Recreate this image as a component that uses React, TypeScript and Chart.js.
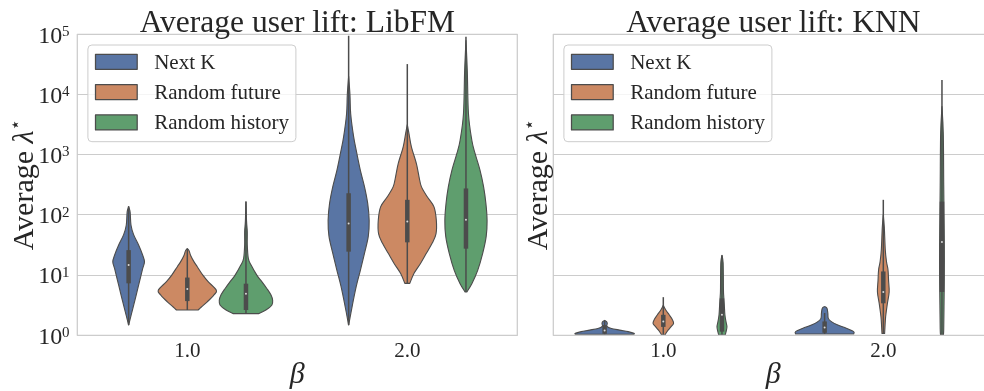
import React, { useEffect, useRef } from 'react';
import { Chart, registerables } from 'chart.js';

Chart.register(...registerables);

// ---------- data ----------
const CATEGORIES = ['1.0', '2.0'];
const SERIES = ['Next K', 'Random future', 'Random history'];
const COLORS = ['#5975a4', '#cc8963', '#5f9e6e'];
const Y_TICKS = [1, 10, 100, 1000, 10000, 100000];
const Y_EXPONENTS = ['0', '1', '2', '3', '4', '5'];
const TITLES = ['Average user lift: LibFM', 'Average user lift: KNN'];
const X_TITLE = 'β';

// violin outlines: [lambda value, full width as a fraction of the dodge slot]
const LIBFM_NEXTK_B1 = [[138, 0], [112, 0.05], [68, 0.08], [47, 0.17], [31.6, 0.34], [21.4, 0.48], [16.6, 0.54], [12.9, 0.48], [7.8, 0.37], [4.7, 0.26], [2.75, 0.14], [1.48, 0]];
const LIBFM_FUTURE_B1 = [[27.5, 0], [25.5, 0.06], [21.4, 0.11], [16.6, 0.23], [13.8, 0.34], [10, 0.53], [7.8, 0.71], [5.6, 0.99], [4.7, 0.91], [3.6, 0.68], [2.95, 0.48], [2.63, 0.37]];
const LIBFM_HISTORY_B1 = [[166, 0], [79, 0.02], [52, 0.045], [31.6, 0.045], [19, 0.08], [14.8, 0.17], [10, 0.37], [7.8, 0.54], [6.0, 0.71], [4.7, 0.85], [3.8, 0.91], [3.16, 0.88], [2.63, 0.68], [2.29, 0.43]];
const LIBFM_NEXTK_B2 = [[20000, 0], [10000, 0.045], [4800, 0.07], [2000, 0.17], [1050, 0.28], [550, 0.4], [295, 0.54], [155, 0.65], [81, 0.7], [44, 0.67], [23, 0.54], [12, 0.4], [6.5, 0.26], [3.4, 0.14], [1.48, 0]];
const LIBFM_FUTURE_B2 = [[3160, 0], [2240, 0.057], [1350, 0.14], [710, 0.31], [430, 0.4], [295, 0.48], [200, 0.68], [136, 0.91], [81, 0.99], [49, 0.98], [34, 0.85], [23, 0.65], [15.6, 0.45], [10.7, 0.23], [7.3, 0.085]];
const LIBFM_HISTORY_B2 = [[79000, 0], [25000, 0.045], [4800, 0.085], [1740, 0.2], [1050, 0.31], [550, 0.48], [295, 0.6], [155, 0.68], [81, 0.72], [44, 0.69], [23, 0.57], [12, 0.4], [7.2, 0.2], [5.25, 0.03]];

const KNN_NEXTK_B1 = [[1.76, 0], [1.7, 0.06], [1.58, 0.09], [1.41, 0.08], [1.3, 0.23], [1.22, 0.51], [1.15, 0.8], [1.08, 1.0], [1.04, 1.0]];
const KNN_FUTURE_B1 = [[3.16, 0], [2.63, 0.085], [2.19, 0.2], [1.82, 0.31], [1.58, 0.35], [1.38, 0.26], [1.23, 0.17], [1.07, 0.085], [1.01, 0.06]];
const KNN_HISTORY_B1 = [[21.4, 0], [15.8, 0.04], [6.0, 0.05], [4.7, 0.057], [3.16, 0.08], [2.19, 0.1], [1.7, 0.136], [1.38, 0.17], [1.15, 0.14], [1.01, 0.11]];
const KNN_NEXTK_B2 = [[3.0, 0], [2.81, 0.08], [2.32, 0.11], [1.91, 0.125], [1.69, 0.23], [1.48, 0.45], [1.31, 0.74], [1.15, 0.99], [1.05, 0.99]];
const KNN_FUTURE_B2 = [[100, 0], [63, 0.034], [26, 0.068], [16.6, 0.11], [12.3, 0.16], [8.1, 0.18], [5.25, 0.2], [3.4, 0.14], [2.04, 0.08], [1.38, 0.057], [1.07, 0.045]];
const KNN_HISTORY_B2 = [[6300, 0], [2240, 0.045], [316, 0.06], [100, 0.07], [31.6, 0.08], [10, 0.08], [3.16, 0.07], [1.26, 0.06], [1.02, 0.05]];

// inner boxes: [whisker low, q1, median, q3, whisker high]
const LIBFM_BOX_B1 = [[1.48, 7.3, 14.7, 26, 138], [2.63, 3.7, 5.9, 9.1, 27.5], [2.29, 2.63, 4.9, 7.2, 166]];
const LIBFM_BOX_B2 = [[1.48, 24.5, 72, 229, 95000], [7.2, 35, 78, 178, 32000], [5.25, 27.5, 83, 275, 91000]];
const KNN_BOX_B1 = [[1.04, 1.06, 1.2, 1.48, 1.8], [1.01, 1.38, 1.7, 2.19, 4.3], [1.01, 1.15, 2.19, 4.1, 21.4]];
const KNN_BOX_B2 = [[1.05, 1.1, 1.35, 1.7, 2.35], [1.07, 3.4, 5.25, 11.5, 178], [1.02, 5.25, 35.5, 166, 17400]];

// ---------- styling ----------
const GRAY = '#4c4c4c';
const TEXT = '#262626';
const GRID = '#cccccc';
const SERIF = '"Liberation Serif", "DejaVu Serif", serif';

type Panel = {
  title: string;
  violins: number[][][][];
  boxes: number[][][];
  yTicks: boolean;
  yLabelGap: number;
  width: number;
  padding: { left: number; right: number; top: number; bottom: number };
};

function curveThrough(ctx: CanvasRenderingContext2D, pts: { x: number; y: number }[]) {
  for (let i = 0; i < pts.length - 1; i++) {
    const p0 = pts[i - 1] || pts[i];
    const p1 = pts[i];
    const p2 = pts[i + 1];
    const p3 = pts[i + 2] || p2;
    ctx.bezierCurveTo(
      p1.x + (p2.x - p0.x) / 6, p1.y + (p2.y - p0.y) / 6,
      p2.x - (p3.x - p1.x) / 6, p2.y - (p3.y - p1.y) / 6,
      p2.x, p2.y
    );
  }
}

function drawPanel(chart: any, cfg: Panel) {
  const ctx: CanvasRenderingContext2D = chart.ctx;
  const a = chart.chartArea;
  const xs = chart.scales.x;
  const ys = chart.scales.y;
  const catW = xs.getPixelForValue(1) - xs.getPixelForValue(0);
  const slot = (catW * 0.8) / SERIES.length;

  ctx.save();
  // violins
  for (let c = 0; c < CATEGORIES.length; c++) {
    for (let s = 0; s < SERIES.length; s++) {
      const cx = xs.getPixelForValue(c) + (s - 1) * slot;
      const prof = cfg.violins[c][s];
      const pts = prof.map(([v, w]) => ({ y: ys.getPixelForValue(v), h: (w * slot) / 2 }));
      const right = pts.map((p) => ({ x: cx + p.h, y: p.y }));
      const left = pts.slice().reverse().map((p) => ({ x: cx - p.h, y: p.y }));
      ctx.beginPath();
      ctx.moveTo(right[0].x, right[0].y);
      curveThrough(ctx, right);
      ctx.lineTo(left[0].x, left[0].y);
      curveThrough(ctx, left);
      ctx.closePath();
      ctx.fillStyle = COLORS[s];
      ctx.fill();
      ctx.lineWidth = 1.1;
      ctx.lineJoin = 'round';
      ctx.strokeStyle = GRAY;
      ctx.stroke();

      const [lo, q1, med, q3, hi] = cfg.boxes[c][s];
      ctx.lineCap = 'butt';
      ctx.beginPath();
      ctx.moveTo(cx, ys.getPixelForValue(lo));
      ctx.lineTo(cx, ys.getPixelForValue(hi));
      ctx.lineWidth = 1.5;
      ctx.stroke();
      ctx.beginPath();
      ctx.moveTo(cx, ys.getPixelForValue(q1));
      ctx.lineTo(cx, ys.getPixelForValue(q3));
      ctx.lineWidth = 4.5;
      ctx.stroke();
      ctx.beginPath();
      ctx.arc(cx, ys.getPixelForValue(med), 1.0, 0, Math.PI * 2);
      ctx.fillStyle = '#d8d8d8';
      ctx.fill();
    }
  }

  // frame
  ctx.strokeStyle = GRID;
  ctx.lineWidth = 1.25;
  ctx.strokeRect(a.left, a.top, a.right - a.left, a.bottom - a.top);

  // legend
  const bx = a.left + 10.6;
  const by = a.top + 10.7;
  const bw = 208;
  const bh = 96.7;
  ctx.beginPath();
  ctx.roundRect(bx, by, bw, bh, 4);
  ctx.fillStyle = 'rgba(255,255,255,0.8)';
  ctx.fill();
  ctx.strokeStyle = GRID;
  ctx.lineWidth = 1;
  ctx.stroke();
  ctx.font = `21px ${SERIF}`;
  ctx.textAlign = 'left';
  ctx.textBaseline = 'alphabetic';
  for (let s = 0; s < SERIES.length; s++) {
    const cy = by + 16.8 + s * 30.3;
    ctx.fillStyle = COLORS[s];
    ctx.fillRect(bx + 7.6, cy - 7.5, 41.7, 15);
    ctx.strokeStyle = GRAY;
    ctx.lineWidth = 1.25;
    ctx.strokeRect(bx + 7.6, cy - 7.5, 41.7, 15);
    ctx.fillStyle = TEXT;
    ctx.fillText(SERIES[s], bx + 66.3, cy + 7);
  }

  // title
  ctx.fillStyle = TEXT;
  ctx.font = `31.5px ${SERIF}`;
  ctx.textAlign = 'center';
  ctx.fillText(cfg.title, (a.left + a.right) / 2, a.top - 2.8);

  // x tick labels
  ctx.font = `21px ${SERIF}`;
  for (let c = 0; c < CATEGORIES.length; c++) {
    ctx.fillText(CATEGORIES[c], xs.getPixelForValue(c), a.bottom + 21.2);
  }
  // x title
  ctx.font = `italic 30px ${SERIF}`;
  ctx.fillText(X_TITLE, (a.left + a.right) / 2, a.bottom + 47.5);

  // y tick labels
  if (cfg.yTicks) {
    for (let i = 0; i < Y_TICKS.length; i++) {
      const y = ys.getPixelForValue(Y_TICKS[i]);
      ctx.font = `24px ${SERIF}`;
      ctx.textAlign = 'right';
      ctx.fillText('10', a.left - 15, y + 8.3);
      ctx.font = `15px ${SERIF}`;
      ctx.textAlign = 'left';
      ctx.fillText(Y_EXPONENTS[i], a.left - 15.3, y + 1.7);
    }
  }

  // y title: "Average λ⋆"
  const parts = [
    { t: 'Average ', f: `30px ${SERIF}`, dy: 0 },
    { t: 'λ', f: `italic 30px ${SERIF}`, dy: 0 },
    { t: '⋆', f: `18px "DejaVu Sans", sans-serif`, dy: -12 },
  ];
  let total = 0;
  const widths = parts.map((p) => {
    ctx.font = p.f;
    const w = ctx.measureText(p.t).width;
    total += w;
    return w;
  });
  ctx.translate(a.left - cfg.yLabelGap, (a.top + a.bottom) / 2);
  ctx.rotate(-Math.PI / 2);
  ctx.textAlign = 'left';
  let px = -total / 2;
  parts.forEach((p, i) => {
    ctx.font = p.f;
    ctx.fillText(p.t, px, p.dy);
    px += widths[i];
  });
  ctx.restore();
}

function makeConfig(cfg: Panel): any {
  return {
    type: 'line',
    data: {
      labels: CATEGORIES,
      datasets: SERIES.map((name, s) => ({
        label: name,
        data: CATEGORIES.map((_, c) => cfg.boxes[c][s][2]),
        borderColor: COLORS[s],
        backgroundColor: COLORS[s],
        showLine: false,
        pointRadius: 0,
        pointHoverRadius: 0,
      })),
    },
    options: {
      responsive: false,
      animation: false,
      events: [],
      layout: { padding: cfg.padding },
      plugins: { legend: { display: false }, title: { display: false }, tooltip: { enabled: false } },
      scales: {
        x: {
          type: 'category',
          offset: true,
          grid: { display: false, drawTicks: false },
          border: { display: false },
          ticks: { display: false },
          afterFit: (scale: any) => { scale.height = 0; },
        },
        y: {
          type: 'logarithmic',
          min: 1,
          max: 100000,
          grid: { color: GRID, lineWidth: 1, drawTicks: false },
          border: { display: false },
          ticks: { display: false },
          afterBuildTicks: (axis: any) => { axis.ticks = Y_TICKS.map((v) => ({ value: v })); },
          afterFit: (scale: any) => { scale.width = 0; },
        },
      },
    },
    plugins: [{ id: 'violins', afterDatasetsDraw: (chart: any) => drawPanel(chart, cfg) }],
  };
}

const LEFT_PANEL: Panel = {
  title: TITLES[0],
  violins: [[LIBFM_NEXTK_B1, LIBFM_FUTURE_B1, LIBFM_HISTORY_B1], [LIBFM_NEXTK_B2, LIBFM_FUTURE_B2, LIBFM_HISTORY_B2]],
  boxes: [LIBFM_BOX_B1, LIBFM_BOX_B2],
  yTicks: true,
  yLabelGap: 44.3,
  width: 520,
  padding: { left: 77.3, right: 2.7, top: 34.3, bottom: 55.7 },
};

const RIGHT_PANEL: Panel = {
  title: TITLES[1],
  violins: [[KNN_NEXTK_B1, KNN_FUTURE_B1, KNN_HISTORY_B1], [KNN_NEXTK_B2, KNN_FUTURE_B2, KNN_HISTORY_B2]],
  boxes: [KNN_BOX_B1, KNN_BOX_B2],
  yTicks: false,
  yLabelGap: 6.3,
  width: 480,
  padding: { left: 33.3, right: 6.7, top: 34.3, bottom: 55.7 },
};

function PanelChart({ cfg, left }: { cfg: Panel; left: number }) {
  const ref = useRef<HTMLCanvasElement | null>(null);
  useEffect(() => {
    if (!ref.current) return;
    const chart = new Chart(ref.current, makeConfig(cfg));
    return () => chart.destroy();
  }, [cfg]);
  return (
    <canvas
      ref={ref}
      width={cfg.width}
      height={391}
      style={{ position: 'absolute', left, top: 0, width: cfg.width, height: 391 }}
    />
  );
}

export default function App() {
  return (
    <div style={{ position: 'fixed', left: 0, top: 0, width: 984, height: 391, overflow: 'hidden', background: '#ffffff' }}>
      <PanelChart cfg={LEFT_PANEL} left={0} />
      <PanelChart cfg={RIGHT_PANEL} left={520} />
    </div>
  );
}
